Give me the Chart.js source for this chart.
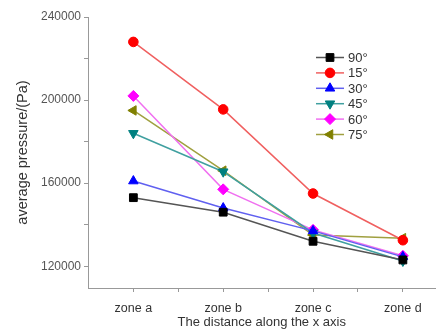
<!DOCTYPE html>
<html>
<head>
<meta charset="utf-8">
<script src="https://cdn.jsdelivr.net/npm/chart.js@4.4.0/dist/chart.umd.min.js"></script>
<style>
  html, body { margin: 0; padding: 0; background: #fff; }
</style>
</head>
<body>
<canvas id="myChart" width="442" height="331"></canvas>
<script>
// categories and series
const zones = ['zone a', 'zone b', 'zone c', 'zone d'];
const angles = ['90°', '15°', '30°', '45°', '60°', '75°'];
const p90 = [153000, 146000, 132000, 123000];
const p15 = [228000, 195500, 155000, 132500];
const p30 = [161000, 148000, 137000, 124500];
const p45 = [184000, 165500, 136000, 122500];
const p60 = [202000, 157000, 137500, 125000];
const p75 = [195000, 166000, 135000, 133500];
const yTicks = [120000, 140000, 160000, 180000, 200000, 220000, 240000];
const yLabelTicks = [120000, 160000, 200000, 240000];
const xTicks = [0, 0.5, 1, 1.5, 2, 2.5, 3];

// styles
const markerColors = ['#000000', '#ff0000', '#0000ff', '#008080', '#ff00ff', '#808000'];
const lineColors = ['#555555', '#f06060', '#6060f0', '#40a0a0', '#f070f0', '#a0a040'];
const markers = [
  { style: 'rect', rotation: 0, radius: 5.5 },
  { style: 'circle', rotation: 0, radius: 4.8 },
  { style: 'triangle', rotation: 0, radius: 5.5 },
  { style: 'triangle', rotation: 180, radius: 5.5 },
  { style: 'rectRot', rotation: 0, radius: 5.5 },
  { style: 'triangle', rotation: 270, radius: 5.5 },
];

const series = [p90, p15, p30, p45, p60, p75];

Chart.defaults.font.family = '"Liberation Sans", Arial, sans-serif';

const datasets = series.map((vals, i) => ({
  label: angles[i],
  data: vals.map((v, j) => ({ x: j, y: v })),
  borderColor: lineColors[i],
  borderWidth: 1.5,
  backgroundColor: markerColors[i],
  pointBackgroundColor: markerColors[i],
  pointBorderColor: markerColors[i],
  pointBorderWidth: 1,
  pointStyle: markers[i].style,
  pointRotation: markers[i].rotation,
  pointRadius: markers[i].radius,
  fill: false,
  tension: 0,
}));

// legend drawn inside the plot, top right
const insideLegend = {
  id: 'insideLegend',
  afterDraw(chart) {
    const c = chart.ctx;
    const x0 = 316;
    const y0 = 57.5;
    const rowH = 15.4;
    c.save();
    chart.data.datasets.forEach((ds, i) => {
      const y = y0 + i * rowH;
      c.strokeStyle = ds.borderColor;
      c.lineWidth = 1.5;
      c.beginPath();
      c.moveTo(x0, y);
      c.lineTo(x0 + 28, y);
      c.stroke();
      c.fillStyle = ds.pointBackgroundColor;
      c.strokeStyle = ds.pointBorderColor;
      c.lineWidth = 1;
      Chart.helpers.drawPoint(c, {
        pointStyle: ds.pointStyle,
        rotation: ds.pointRotation,
        radius: ds.pointRadius,
        borderWidth: 1,
      }, x0 + 14, y);
      c.fillStyle = '#333';
      c.font = '13px "Liberation Sans", Arial, sans-serif';
      c.textBaseline = 'middle';
      c.textAlign = 'left';
      c.fillText(ds.label, x0 + 32, y + 1);
    });
    c.restore();
  },
};

const ctx = document.getElementById('myChart');

new Chart(ctx, {
  type: 'line',
  data: { datasets },
  plugins: [insideLegend],
  options: {
    responsive: false,
    animation: false,
    layout: { padding: { top: 17, right: 2, left: 0, bottom: 0 } },
    plugins: {
      legend: { display: false },
      tooltip: { enabled: false },
    },
    scales: {
      x: {
        type: 'linear',
        min: -0.505,
        max: 3.363,
        afterBuildTicks: s => { s.ticks = xTicks.map(v => ({ value: v })); },
        afterFit: s => { s.height = 43; },
        ticks: {
          autoSkip: false,
          maxRotation: 0,
          padding: 9,
          color: '#333',
          font: { size: 12.5 },
          callback: v => (Number.isInteger(v) ? zones[v] : ''),
        },
        grid: { drawOnChartArea: false, tickLength: 4, color: '#999' },
        border: { color: '#999' },
        title: {
          display: true,
          text: 'The distance along the x axis',
          color: '#333',
          font: { size: 13 },
          padding: { top: 0, bottom: 1 },
        },
      },
      y: {
        min: 109500,
        max: 240000,
        afterBuildTicks: s => { s.ticks = yTicks.map(v => ({ value: v })); },
        afterFit: s => { s.width = 88; },
        ticks: {
          padding: 3,
          color: '#555',
          font: { size: 12 },
          callback: v => (yLabelTicks.includes(v) ? String(v) : ''),
        },
        grid: { drawOnChartArea: false, tickLength: 4, color: '#999' },
        border: { color: '#999' },
        title: {
          display: true,
          text: 'average pressure/(Pa)',
          color: '#333',
          font: { size: 14.5 },
          padding: { top: 14, bottom: 0 },
        },
      },
    },
  },
});
</script>
</body>
</html>
